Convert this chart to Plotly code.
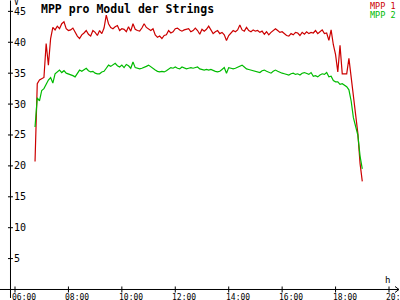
import pandas as pd
import plotly.graph_objects as go

# ---------------- data ----------------
times = pd.date_range("2024-06-15 06:45", "2024-06-15 19:00", freq="5min")

mpp1 = [
    20.7, 33.3, 33.9,
    34.1, 34.3, 39.8, 36.3, 40.6, 42.4, 42.0, 42.6, 42.2, 43.0, 43.3, 42.2,
    41.9, 42.0, 42.3, 41.6, 41.0, 40.6, 41.2, 41.5, 41.9, 41.3, 41.0, 41.9,
    41.6, 41.1, 41.9, 41.4, 42.3, 44.4, 43.0, 42.4, 42.2, 42.5, 42.7, 41.9,
    42.2, 42.1, 41.7, 42.5, 41.8, 43.0, 42.1, 41.9, 41.8, 42.3, 43.0, 42.4,
    42.1, 41.9, 42.2, 41.2, 40.8, 41.0, 40.6, 41.1, 41.2, 41.9, 41.5, 41.7,
    42.2, 42.3, 42.0, 41.8, 42.0, 42.1, 42.2, 41.7, 41.9, 42.3, 41.9, 41.3,
    42.1, 41.8, 42.1, 42.6, 41.9, 41.4, 41.7, 41.9, 41.4, 41.6, 41.2, 40.3,
    41.1, 41.5, 41.9, 41.7, 42.0, 42.8, 42.0, 41.8, 42.4, 41.9, 41.7, 42.0,
    41.8, 41.9, 41.6, 41.8, 41.3, 41.7, 41.2, 41.6, 41.9, 42.2, 41.9, 41.6,
    41.7, 41.4, 41.1, 41.0, 41.4, 41.2, 41.6, 41.5, 41.1, 41.6, 41.3, 41.7,
    41.4, 41.6, 41.5, 41.9, 41.4, 41.7, 42.0, 41.4, 41.5, 40.3, 42.0, 39.6,
    38.0, 35.2, 39.5, 34.9, 34.9, 34.9, 37.4, 34.5, 32.0, 28.5, 25.3, 20.4,
    17.5,
]

mpp2 = [
    26.3, 31.0, 30.5,
    32.2, 32.5, 33.3, 33.9, 34.3, 33.4, 34.9, 35.2, 35.5, 35.1, 35.4, 35.0,
    34.9, 34.7, 34.6, 34.4, 35.0, 35.5, 35.3, 35.6, 35.8, 35.4, 35.2, 35.3,
    35.0, 34.9, 34.9, 35.2, 35.3, 35.8, 36.3, 36.1, 36.4, 36.6, 36.2, 36.0,
    36.3, 35.9, 36.4, 36.2, 35.8, 36.8, 35.9, 35.8, 35.7, 35.8, 35.9, 36.1,
    36.3, 36.0, 35.7, 35.5, 35.3, 35.2, 35.3, 35.2, 35.4, 35.6, 35.9, 35.8,
    36.0, 35.8, 35.7, 36.0, 35.8, 35.7, 35.8, 35.9, 35.8, 35.9, 36.0, 35.7,
    35.6, 35.5, 35.6, 35.5, 35.6, 35.4, 35.3, 35.2, 35.3, 35.6, 35.9, 35.0,
    35.9, 35.8, 35.7, 35.8, 36.0, 36.2, 36.3, 36.0, 35.7, 35.6, 35.5, 35.4,
    35.3, 35.2, 35.1, 35.4, 35.5, 35.3, 35.2, 35.0, 35.3, 35.5, 35.3, 35.1,
    35.0, 34.9, 34.8, 34.7, 34.9, 35.0, 34.8, 34.9, 34.7, 35.0, 35.1, 35.0,
    34.8, 35.1, 34.5, 34.6, 34.4, 34.7, 34.9, 34.8, 35.1, 34.4, 34.5, 33.8,
    33.6, 33.6, 33.2, 33.3, 33.0, 32.8, 32.3, 30.5, 27.8, 26.3, 25.0, 21.6,
    19.5,
]

x_tick_labels = ["06:00", "08:00", "10:00", "12:00", "14:00", "16:00", "18:00", "20:00"]
y_tick_values = [5, 10, 15, 20, 25, 30, 35, 40, 45]

title_text = "MPP pro Modul der Strings"
series_names = ["MPP 1", "MPP 2"]
series_colors = ["#cc0000", "#00bb00"]

# ---------------- layout constants ----------------
W, H = 400, 300
DAY = "2024-06-15 "
X_RANGE = [DAY + "05:26:19", DAY + "20:24:43"]
Y_RANGE = [-1.70, 46.84]
AXIS_T = pd.Timestamp(DAY + "05:49:53")   # where the vertical axis sits
PX_S = 134.76                              # seconds per pixel horizontally
PX_V = 1 / 6.18                            # value units per pixel vertically
FONT = "DejaVu Sans Mono"

fig = go.Figure()
for name, vals, col in zip(series_names, [mpp1, mpp2], series_colors):
    fig.add_trace(go.Scatter(x=times, y=vals, mode="lines", name=name,
                             line=dict(color=col, width=1.2)))

shapes = []
black = dict(color="black", width=1)
# x axis line + arrow
shapes.append(dict(type="line", xref="paper", yref="y", x0=0, x1=399 / W, y0=0, y1=0, line=black))
shapes.append(dict(type="path", xref="paper", yref="y",
                   path=f"M {395/W},{3*PX_V} L {399/W},0 L {395/W},{-3*PX_V}", line=black))
# y axis line + arrow
shapes.append(dict(type="line", xref="x", yref="y", x0=AXIS_T, x1=AXIS_T,
                   y0=-8.5 * PX_V, y1=Y_RANGE[1] - 0.5 * PX_V, line=black))
tl = AXIS_T - pd.Timedelta(seconds=3 * PX_S)
tr = AXIS_T + pd.Timedelta(seconds=3 * PX_S)
ytop = Y_RANGE[1] - 0.5 * PX_V
shapes.append(dict(type="path", xref="x", yref="y",
                   path=f"M {tl},{ytop - 4*PX_V} L {AXIS_T},{ytop} L {tr},{ytop - 4*PX_V}",
                   line=black))
# y ticks
for v in y_tick_values:
    shapes.append(dict(type="line", xref="x", yref="y",
                       x0=AXIS_T - pd.Timedelta(seconds=2.5 * PX_S),
                       x1=AXIS_T + pd.Timedelta(seconds=2.5 * PX_S),
                       y0=v, y1=v, line=black))
# x ticks
for lab in x_tick_labels:
    t = pd.Timestamp(DAY + lab)
    shapes.append(dict(type="line", xref="x", yref="y", x0=t, x1=t,
                       y0=-3 * PX_V, y1=3 * PX_V, line=black))

ann = []
for v in y_tick_values:
    ann.append(dict(x=AXIS_T + pd.Timedelta(seconds=3 * PX_S), y=v, xref="x", yref="y",
                    text=str(v), showarrow=False, xanchor="left", yanchor="middle",
                    font=dict(family=FONT, size=10, color="black"), borderpad=0))
for lab in x_tick_labels:
    ann.append(dict(x=pd.Timestamp(DAY + lab) - pd.Timedelta(seconds=4 * PX_S), y=0,
                    xref="x", yref="y", yshift=-3,
                    text=lab, showarrow=False, xanchor="left", yanchor="top",
                    font=dict(family=FONT, size=8, color="black"), borderpad=0))
ann.append(dict(x=40 / W, y=1 - 1 / H, xref="paper", yref="paper", text="<b>" + title_text + "</b>",
                showarrow=False, xanchor="left", yanchor="top",
                font=dict(family=FONT, size=11.5, color="black"), borderpad=0))
for i, (name, col) in enumerate(zip(series_names, series_colors)):
    ann.append(dict(x=397 / W, y=1 - (0 + 9 * i) / H, xref="paper", yref="paper", text=name,
                    showarrow=False, xanchor="right", yanchor="top",
                    font=dict(family=FONT, size=8.5, color=col), borderpad=0))
ann.append(dict(x=13 / W, y=1 + 3 / H, xref="paper", yref="paper", text="V",
                showarrow=False, xanchor="left", yanchor="top",
                font=dict(family=FONT, size=8, color="black"), borderpad=0))
ann.append(dict(x=387 / W, y=1 - 280 / H, xref="paper", yref="paper", text="h",
                showarrow=False, xanchor="center", yanchor="middle",
                font=dict(family=FONT, size=9, color="black"), borderpad=0))

fig.update_layout(
    width=W, height=H, margin=dict(l=0, r=0, t=0, b=0),
    paper_bgcolor="white", plot_bgcolor="white", showlegend=False,
    xaxis=dict(range=X_RANGE, visible=False, fixedrange=True),
    yaxis=dict(range=Y_RANGE, visible=False, fixedrange=True),
    shapes=shapes, annotations=ann,
)
fig.write_html("out.html")
